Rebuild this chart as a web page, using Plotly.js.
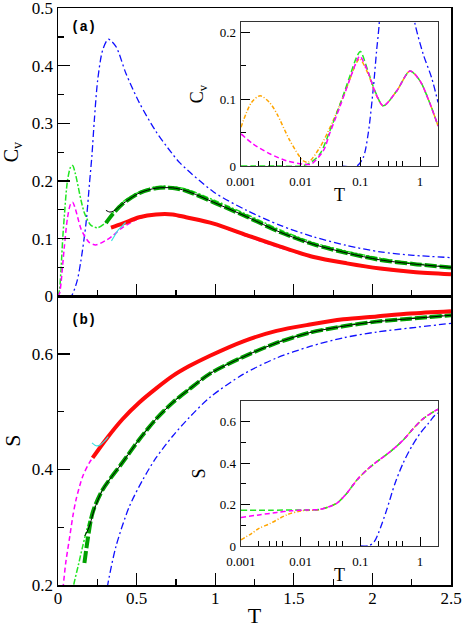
<!DOCTYPE html>
<html><head><meta charset="utf-8">
<script src="https://cdn.plot.ly/plotly-3.0.1.min.js"></script>
<style>body{margin:0;background:#fff}#c{width:464px;height:628px}</style>
</head><body><div id="c"></div>
<script>
// ---------- Panel (a): specific heat Cv vs T ----------
const aBlueT = [0.06,0.083,0.12,0.146,0.178,0.2,0.216,0.231,0.252,0.284,0.32,0.369,0.433,0.517,0.623,0.719,0.777,0.99,1.2,1.414,1.626,1.838,2.05,2.26,2.5];
const aBlueC = [0,0,0.025,0.062,0.126,0.195,0.245,0.305,0.374,0.427,0.446,0.433,0.386,0.336,0.286,0.25,0.231,0.181,0.149,0.123,0.103,0.088,0.077,0.071,0.067];
const aLgreenT = [0,0.01,0.02,0.03,0.04,0.06,0.08,0.093,0.11,0.13,0.146,0.17,0.21,0.252,0.3,0.35,0.41,0.517,0.623,0.73,0.814,0.99,1.2,1.414,1.626,1.838,2.05,2.26,2.5];
const aLgreenC = [0,0.012,0.05,0.1,0.138,0.2,0.224,0.227,0.213,0.188,0.167,0.143,0.123,0.119,0.127,0.145,0.163,0.181,0.19,0.19,0.186,0.167,0.142,0.115,0.093,0.078,0.066,0.057,0.051];
const aMagT = [0,0.01,0.02,0.03,0.04,0.06,0.08,0.093,0.11,0.13,0.146,0.17,0.2,0.24,0.305,0.348,0.41,0.517,0.623,0.73,0.814,0.99,1.2,1.414,1.626,1.838,2.05,2.26,2.5];
const aMagC = [0,0.005,0.025,0.055,0.085,0.135,0.16,0.163,0.152,0.132,0.117,0.104,0.093,0.089,0.097,0.105,0.119,0.135,0.141,0.141,0.136,0.125,0.104,0.084,0.067,0.056,0.047,0.041,0.037];
const aDgreenT = [0.305,0.35,0.41,0.517,0.623,0.73,0.814,0.99,1.2,1.414,1.626,1.838,2.05,2.26,2.5];
const aDgreenC = [0.127,0.143,0.16,0.179,0.1875,0.188,0.183,0.163,0.138,0.111,0.09,0.075,0.063,0.056,0.05];
const aBlackT = [0.305,0.33,0.355,0.38,0.41,0.517,0.623,0.73,0.814,0.99,1.2,1.414,1.626,1.838,2.05,2.26,2.5];
const aBlackC = [0.149,0.146,0.148,0.153,0.16,0.179,0.1875,0.188,0.183,0.163,0.138,0.111,0.09,0.075,0.063,0.056,0.05];
const aRedT = [0.337,0.41,0.517,0.623,0.73,0.814,0.99,1.2,1.414,1.626,1.838,2.05,2.26,2.5];
const aRedC = [0.119,0.126,0.137,0.142,0.142,0.137,0.126,0.106,0.086,0.068,0.057,0.048,0.042,0.038];
const aCyanT = [0.34,0.36,0.38,0.405,0.43];
const aCyanC = [0.096,0.105,0.114,0.121,0.128];

// ---------- Panel (b): entropy S vs T ----------
const bBlueT = [0.3,0.316,0.369,0.454,0.539,0.623,0.73,0.835,0.967,1.179,1.39,1.603,1.815,2.027,2.24,2.5];
const bBlueS = [0.17,0.2,0.267,0.336,0.382,0.42,0.458,0.49,0.525,0.565,0.593,0.613,0.628,0.638,0.645,0.653];
const bLgreenT = [0.09,0.1,0.13,0.157,0.2,0.25,0.284,0.41,0.517,0.623,0.73,0.835,0.967,1.179,1.39,1.603,1.815,2.027,2.24,2.5];
const bLgreenS = [0.18,0.2,0.235,0.267,0.312,0.345,0.365,0.413,0.453,0.488,0.517,0.54,0.567,0.596,0.62,0.638,0.649,0.657,0.662,0.668];
const bMagT = [0.028,0.034,0.05,0.072,0.095,0.115,0.157,0.2,0.22,0.305,0.41,0.517,0.623,0.73,0.835,0.967,1.179,1.39,1.603,1.815,2.027,2.24,2.5];
const bMagS = [0.18,0.2,0.24,0.279,0.32,0.348,0.388,0.412,0.42,0.451,0.486,0.515,0.539,0.561,0.578,0.596,0.621,0.639,0.65,0.659,0.664,0.669,0.673];
const bDgreenT = [0.168,0.189,0.22,0.284,0.41,0.517,0.623,0.73,0.835,0.967,1.179,1.39,1.603,1.815,2.027,2.24,2.5];
const bDgreenS = [0.238,0.279,0.325,0.365,0.412,0.452,0.487,0.516,0.539,0.566,0.595,0.619,0.637,0.648,0.656,0.661,0.667];
const bBlackT = [0.17,0.18,0.2,0.23,0.284,0.41,0.517,0.623,0.73,0.835,0.967,1.179,1.39,1.603,1.815,2.027,2.24,2.5];
const bBlackS = [0.285,0.29,0.302,0.33,0.365,0.412,0.452,0.487,0.516,0.539,0.566,0.595,0.619,0.637,0.648,0.656,0.661,0.667];
const bRedT = [0.22,0.305,0.41,0.517,0.623,0.73,0.835,0.967,1.179,1.39,1.603,1.815,2.027,2.24,2.5];
const bRedS = [0.42,0.452,0.487,0.516,0.54,0.562,0.579,0.597,0.622,0.64,0.651,0.66,0.665,0.67,0.674];
const bCyanT = [0.216,0.235,0.25,0.27,0.295,0.32];
const bCyanS = [0.446,0.442,0.441,0.443,0.449,0.457];

// ---------- Inset (a): Cv vs T, log scale ----------
const iaOrangeT = [0.001,0.0015,0.0021,0.003,0.004,0.0066,0.011,0.0135,0.021,0.035,0.059,0.087,0.098,0.136,0.176,0.242,0.405,0.68,1.0,1.47,2.0];
const iaOrangeC = [0.058,0.095,0.105,0.095,0.078,0.038,0.008,0.006,0.028,0.068,0.117,0.155,0.16,0.137,0.11,0.09,0.112,0.142,0.127,0.093,0.06];
const iaMagT = [0.001,0.0016,0.0031,0.0058,0.011,0.015,0.024,0.031,0.046,0.067,0.087,0.098,0.136,0.176,0.242,0.405,0.68,1.0,1.47,2.0];
const iaMagC = [0.048,0.033,0.018,0.008,0.003,0.003,0.023,0.05,0.09,0.13,0.157,0.164,0.139,0.111,0.09,0.112,0.142,0.127,0.093,0.06];
const iaGreenT = [0.001,0.005,0.01,0.014,0.021,0.031,0.046,0.067,0.087,0.1,0.136,0.176,0.242,0.405,0.68,1.0,1.47,2.0];
const iaGreenC = [0,0,0,0.004,0.018,0.053,0.093,0.135,0.163,0.171,0.14,0.112,0.09,0.112,0.142,0.127,0.093,0.06];
const iaBlueT = [0.05,0.087,0.112,0.135,0.165,0.187,0.207,0.25,0.32,0.43,0.6,0.82,1.13,1.56,2.0];
const iaBlueC = [0,0,0.013,0.048,0.117,0.172,0.213,0.37,0.446,0.386,0.29,0.213,0.167,0.132,0.095];

// ---------- Inset (b): S vs T, log scale ----------
const ibOrangeT = [0.001,0.0015,0.002,0.0031,0.0058,0.0104,0.021,0.04,0.059,0.087,0.127,0.187,0.313,0.52,0.77,1.13,1.77,2.0];
const ibOrangeS = [0.03,0.06,0.085,0.109,0.15,0.17,0.176,0.206,0.254,0.318,0.366,0.406,0.454,0.511,0.567,0.615,0.652,0.66];
const ibMagT = [0.001,0.002,0.004,0.007,0.012,0.021,0.04,0.059,0.087,0.127,0.187,0.313,0.52,0.77,1.13,1.77,2.0];
const ibMagS = [0.138,0.15,0.162,0.17,0.174,0.177,0.206,0.254,0.318,0.366,0.406,0.454,0.511,0.567,0.615,0.652,0.66];
const ibGreenT = [0.001,0.003,0.01,0.021,0.04,0.059,0.087,0.127,0.187,0.313,0.52,0.77,1.13,1.77,2.0];
const ibGreenS = [0.173,0.173,0.174,0.177,0.206,0.254,0.318,0.366,0.406,0.454,0.511,0.567,0.615,0.652,0.66];
const ibBlueT = [0.1,0.14,0.17,0.2,0.275,0.38,0.52,0.72,1.0,1.37,1.77,2.0];
const ibBlueS = [0,0.002,0.02,0.061,0.173,0.302,0.4,0.479,0.543,0.591,0.631,0.642];

// ---------- styles ----------
const BLUE = '#1010ff', LGREEN = '#22e622', MAG = '#ff00ff', DGREEN = '#00a000', RED = '#ff0a0a', CYAN = '#3fe0e0', ORANGE = '#ffa500';
const sBlue = {color: BLUE, width: 1.3, dash: '7px,3px,2px,3px'};
const sLgreen = {color: LGREEN, width: 1.5, dash: '6px,2px,2px,2px'};
const sMag = {color: MAG, width: 1.5, dash: '5px,3px'};
const sDgreen = {color: DGREEN, width: 4, dash: '12px,3px'};
const sRed = {color: RED, width: 4};
const sBlack = {color: '#000', width: 1};
const sCyan = {color: CYAN, width: 1.2};
const sOrange = {color: ORANGE, width: 1.5, dash: '4px,2px,1px,2px'};

function tr(x, y, line, xa, ya) {
  return {x: x, y: y, mode: 'lines', line: Object.assign({shape: 'spline', smoothing: 0.8}, line), xaxis: xa, yaxis: ya, hoverinfo: 'skip'};
}

const data = [
  tr(aBlueT, aBlueC, sBlue, 'x', 'y'),
  tr(aLgreenT, aLgreenC, sLgreen, 'x', 'y'),
  tr(aMagT, aMagC, sMag, 'x', 'y'),
  tr(aDgreenT, aDgreenC, sDgreen, 'x', 'y'),
  tr(aRedT, aRedC, sRed, 'x', 'y'),
  tr(aBlackT, aBlackC, sBlack, 'x', 'y'),
  tr(aCyanT, aCyanC, sCyan, 'x', 'y'),

  tr(bBlueT, bBlueS, sBlue, 'x2', 'y2'),
  tr(bLgreenT, bLgreenS, sLgreen, 'x2', 'y2'),
  tr(bMagT, bMagS, sMag, 'x2', 'y2'),
  tr(bDgreenT, bDgreenS, sDgreen, 'x2', 'y2'),
  tr(bRedT, bRedS, sRed, 'x2', 'y2'),
  tr(bBlackT, bBlackS, sBlack, 'x2', 'y2'),
  tr(bCyanT, bCyanS, sCyan, 'x2', 'y2'),

  tr(iaBlueT, iaBlueC, sBlue, 'x3', 'y3'),
  tr(iaOrangeT, iaOrangeC, sOrange, 'x3', 'y3'),
  tr(iaGreenT, iaGreenC, Object.assign({}, sLgreen, {dash: '6px,3px'}), 'x3', 'y3'),
  tr(iaMagT, iaMagC, sMag, 'x3', 'y3'),

  tr(ibBlueT, ibBlueS, sBlue, 'x4', 'y4'),
  tr(ibOrangeT, ibOrangeS, sOrange, 'x4', 'y4'),
  tr(ibGreenT, ibGreenS, Object.assign({}, sLgreen, {dash: '6px,3px'}), 'x4', 'y4'),
  tr(ibMagT, ibMagS, sMag, 'x4', 'y4')
];

const SERIF = 'Liberation Serif';
const mainTick = {family: SERIF, size: 17, color: '#000'};
const insetTick = {family: SERIF, size: 13, color: '#000'};

function mainAxis(extra) {
  return Object.assign({
    showline: true, linecolor: '#000', linewidth: 1.5, mirror: true,
    ticks: 'inside', ticklen: 12, tickwidth: 1.2, tickcolor: '#000', ticklabeloverflow: 'allow',
    showgrid: false, zeroline: false, tickfont: mainTick, fixedrange: true
  }, extra);
}
function insetAxis(extra) {
  return Object.assign({
    showline: true, linecolor: '#333', linewidth: 1.3, mirror: true,
    ticks: 'inside', ticklen: 9, tickwidth: 1, tickcolor: '#000', ticklabeloverflow: 'allow',
    showgrid: false, zeroline: false, tickfont: insetTick, fixedrange: true
  }, extra);
}
const decMinor = [0.002,0.003,0.004,0.005,0.02,0.03,0.04,0.05,0.2,0.3,0.4,0.5];

const layout = {
  width: 464, height: 628,
  margin: {l: 58, r: 13, t: 8, b: 43},
  paper_bgcolor: '#fff', plot_bgcolor: '#fff',
  showlegend: false,
  font: {family: SERIF, color: '#000'},
  xaxis: mainAxis({domain: [0, 1], anchor: 'y', range: [0, 2.5], dtick: 0.5, tick0: 0,
    showticklabels: false, minor: {ticks: 'inside', dtick: 0.25, tick0: 0, ticklen: 6, tickcolor: '#000'}}),
  yaxis: mainAxis({domain: [0.5005, 1], anchor: 'x', range: [0, 0.5002], tickvals: [0, 0.1, 0.2, 0.3, 0.4, 0.5],
    ticktext: ['0', '0.1', '0.2', '0.3', '0.4', '0.5'],
    minor: {ticks: 'inside', tickvals: [0.05, 0.15, 0.25, 0.35, 0.45], ticklen: 6, tickcolor: '#000'},
    title: {text: 'C<sub>v</sub>', font: {family: SERIF, size: 20, color: '#000'}, standoff: 9}}),
  xaxis2: mainAxis({domain: [0, 1], anchor: 'y2', range: [0, 2.5], dtick: 0.5, tick0: 0, ticklabelstandoff: -3,
    minor: {ticks: 'inside', dtick: 0.25, tick0: 0, ticklen: 6, tickcolor: '#000'},
    title: {text: 'T', font: {family: SERIF, size: 22, color: '#000'}, standoff: 10}}),
  yaxis2: mainAxis({domain: [0, 0.5005], anchor: 'x2', range: [0.2, 0.7], tickvals: [0.2, 0.4, 0.6],
    minor: {ticks: 'inside', tickvals: [0.3, 0.5], ticklen: 6, tickcolor: '#000'},
    title: {text: 'S', font: {family: SERIF, size: 22, color: '#000'}, standoff: 9}}),
  xaxis3: insetAxis({type: 'log', domain: [0.4656, 0.967], anchor: 'y3', range: [-3, Math.log10(2)],
    tickvals: [0.001, 0.01, 0.1, 1], ticktext: ['0.001', '0.01', '0.1', '1'], ticklabelstandoff: 3,
    minor: {ticks: 'inside', tickvals: decMinor, ticklen: 5, tickcolor: '#000'},
    title: {text: 'T', font: {family: SERIF, size: 18, color: '#000'}, standoff: 0}}),
  yaxis3: insetAxis({domain: [0.726, 0.9757], anchor: 'x3', range: [0, 0.215], tickvals: [0, 0.1, 0.2],
    ticklabelstandoff: 1,
    minor: {ticks: 'inside', tickvals: [0.05, 0.15], ticklen: 5, tickcolor: '#000'},
    title: {text: 'C<sub>v</sub>', font: {family: SERIF, size: 18, color: '#000'}, standoff: 11}}),
  xaxis4: insetAxis({type: 'log', domain: [0.4656, 0.967], anchor: 'y4', range: [-3, Math.log10(2)],
    tickvals: [0.001, 0.01, 0.1, 1], ticktext: ['0.001', '0.01', '0.1', '1'], ticklabelstandoff: 3,
    minor: {ticks: 'inside', tickvals: decMinor, ticklen: 5, tickcolor: '#000'},
    title: {text: 'T', font: {family: SERIF, size: 18, color: '#000'}, standoff: 0}}),
  yaxis4: insetAxis({domain: [0.0676, 0.3189], anchor: 'x4', range: [0, 0.7], tickvals: [0, 0.2, 0.4, 0.6],
    ticklabelstandoff: 1,
    minor: {ticks: 'inside', tickvals: [0.1, 0.3, 0.5], ticklen: 5, tickcolor: '#000'},
    title: {text: 'S', font: {family: SERIF, size: 18, color: '#000'}, standoff: 9}}),
  annotations: [
    {text: '<b>(a)</b>', xref: 'paper', yref: 'paper', x: 0.028, y: 0.985, xanchor: 'left', yanchor: 'top',
     showarrow: false, font: {family: 'Liberation Mono', size: 14, color: '#000'}},
    {text: '<b>(b)</b>', xref: 'paper', yref: 'paper', x: 0.028, y: 0.477, xanchor: 'left', yanchor: 'top',
     showarrow: false, font: {family: 'Liberation Mono', size: 14, color: '#000'}}
  ]
};

Plotly.newPlot('c', data, layout, {staticPlot: true, displayModeBar: false});
</script>
</body></html>
